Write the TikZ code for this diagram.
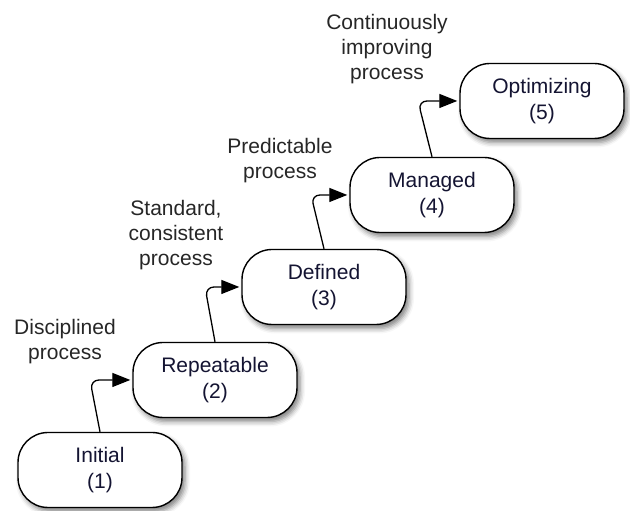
\documentclass[tikz,border=0pt]{standalone}
\usepackage{fontspec}
\setmainfont{Liberation Sans}
\usetikzlibrary{arrows.meta,shadows.blur}
\tikzset{
  stage/.style={draw, line width=1.4pt, fill=white, rounded corners=30pt,
                minimum width=164pt, minimum height=75pt, align=center,
                font=\fontsize{21}{26}\selectfont, text={rgb,255:red,20;green,20;blue,50},
                blur shadow={shadow xshift=3pt, shadow yshift=-4pt,
                             shadow blur radius=5pt, shadow opacity=50}},
  note/.style={align=center, font=\fontsize{21}{25}\selectfont, text=black!85},
  flow/.style={-{Triangle[length=18pt,width=14pt]}, line width=1.3pt,
               rounded corners=9pt, shorten >=2pt}
}
\begin{document}
\begin{tikzpicture}[x=1pt,y=1pt]
            \useasboundingbox (0,0) rectangle (630,511);
            \node[stage] (initial)    at (100,41)  {Initial\\(1)};
            \node[stage] (repeatable) at (215,131) {Repeatable\\(2)};
            \node[stage] (defined)    at (324,224) {Defined\\(3)};
            \node[stage] (managed)    at (432,316) {Managed\\(4)};
            \node[stage] (optimizing) at (542,410) {Optimizing\\(5)};

            \node[note] (disciplined) at (65,169)  {Disciplined\\process};
            \node[note] (standard)    at (176,276) {Standard,\\consistent\\process};
            \node[note] (predictable) at (280,350) {Predictable\\process};
            \node[note] (continuous)  at (387,462) {Continuously\\improving\\process};

            \draw[flow] (initial.north)    -- ([xshift=-10pt]initial.north |- repeatable.west)    -- (repeatable.west);
            \draw[flow] (repeatable.north) -- ([xshift=-10pt]repeatable.north |- defined.west)    -- (defined.west);
            \draw[flow] (defined.north)    -- ([xshift=-13pt]defined.north |- managed.west)       -- (managed.west);
            \draw[flow] (managed.north)    -- ([xshift=-14pt]managed.north |- optimizing.west)    -- (optimizing.west);
        \end{tikzpicture}
\end{document}
